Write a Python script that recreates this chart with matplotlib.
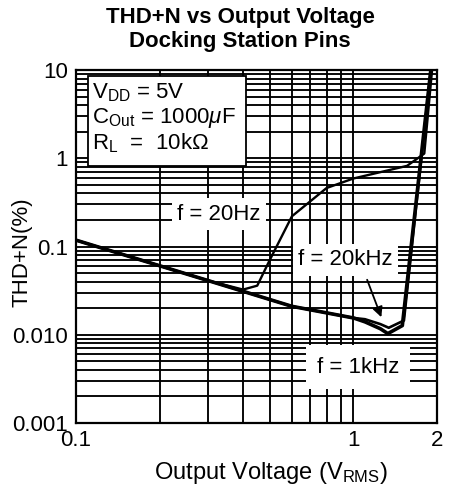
import matplotlib.pyplot as plt
from matplotlib.patches import Rectangle
from matplotlib.ticker import FixedLocator, FixedFormatter, LogLocator, NullFormatter

plt.rcParams['font.family'] = ['Liberation Sans', 'DejaVu Sans']
plt.rcParams['mathtext.fontset'] = 'custom'
plt.rcParams['mathtext.rm'] = 'Liberation Sans'
plt.rcParams['mathtext.it'] = 'Liberation Sans:italic'

# valeurs
v_1k = [0.1, 0.3, 0.6, 1.0, 1.1, 1.25, 1.33, 1.5, 1.9]
thd_1k = [0.118, 0.041, 0.021, 0.0155, 0.0140, 0.0117, 0.0103, 0.0127, 10]

v_20k = [0.1, 0.3, 0.6, 1.0, 1.1, 1.25, 1.34, 1.52, 1.9]
thd_20k = [0.118, 0.041, 0.021, 0.0155, 0.0150, 0.0132, 0.0120, 0.0145, 10]

v_20 = [0.1, 0.3, 0.4, 0.45, 0.5, 0.6, 0.8, 1.0, 1.56, 1.8, 1.92]
thd_20 = [0.118, 0.041, 0.0325, 0.036, 0.071, 0.22, 0.46, 0.59, 0.82, 1.13, 10]

x_ticks = [0.1, 1, 2]
x_labels = ["0.1", "1", "2"]
y_ticks = [0.001, 0.01, 0.1, 1, 10]
y_labels = ["0.001", "0.010", "0.1", "1", "10"]

fig = plt.figure(figsize=(4.55, 4.9), dpi=100)
ax = fig.add_axes([76 / 455, 1 - 423 / 490, 361 / 455, 353 / 490])

ax.set_xscale("log")
ax.set_yscale("log")
ax.set_xlim(0.1, 2)
ax.set_ylim(0.001, 10)

# grille
ax.xaxis.set_major_locator(FixedLocator(x_ticks))
ax.xaxis.set_major_formatter(FixedFormatter(x_labels))
ax.xaxis.set_minor_locator(LogLocator(base=10, subs=range(2, 10)))
ax.xaxis.set_minor_formatter(NullFormatter())
ax.yaxis.set_major_locator(FixedLocator(y_ticks))
ax.yaxis.set_major_formatter(FixedFormatter(y_labels))
ax.yaxis.set_minor_locator(LogLocator(base=10, subs=range(2, 10)))
ax.yaxis.set_minor_formatter(NullFormatter())
ax.grid(True, which="both", color="black", linewidth=1.35)
ax.tick_params(which="both", length=0, labelsize=16)
ax.tick_params(axis="x", pad=5)
ax.tick_params(axis="y", pad=6)
for s in ax.spines.values():
    s.set_linewidth(1.6)

ax.plot(v_20, thd_20, color="black", linewidth=1.7, zorder=3)
ax.plot(v_20k, thd_20k, color="black", linewidth=1.9, zorder=3)
ax.plot(v_1k, thd_1k, color="black", linewidth=2.6, zorder=3)

# cadre des conditions
ax.add_patch(Rectangle((0.033, 0.728), 0.438, 0.255, transform=ax.transAxes,
                       facecolor="white", edgecolor="black", linewidth=1.3, zorder=4))
ax.text(0.044, 0.935, r"V$_{\rm DD}$ = 5V", transform=ax.transAxes, fontsize=16,
        va="center", zorder=5)
ax.text(0.044, 0.864, r"C$_{\rm Out}$ = 1000$\mu$F", transform=ax.transAxes, fontsize=16,
        va="center", zorder=5)
ax.text(0.044, 0.793, r"R$_{\rm L}$  =  10k$\Omega$", transform=ax.transAxes, fontsize=16,
        va="center", zorder=5)

box = dict(facecolor="white", edgecolor="none", pad=4)
ax.text(0.328, 0.231, "f = 20Hz", fontsize=16, ha="center", va="center", bbox=box, zorder=4)
ax.text(0.935, 0.071, "f = 20kHz", fontsize=16, ha="center", va="center", bbox=box, zorder=4)
ax.text(1.04, 0.0043, "f = 1kHz", fontsize=16, ha="center", va="center",
        bbox=dict(facecolor="white", edgecolor="none", pad=8), zorder=4)

ax.annotate("", xy=(1.26, 0.0158), xytext=(1.12, 0.042),
            arrowprops=dict(arrowstyle="-|>", color="black", linewidth=1.3,
                            mutation_scale=15, shrinkA=0, shrinkB=0), zorder=5)

fig.text(240 / 455, 1 - 18 / 490, "THD+N vs Output Voltage", fontsize=16,
         fontweight="bold", ha="center", va="center")
fig.text(240 / 455, 1 - 42 / 490, "Docking Station Pins", fontsize=16,
         fontweight="bold", ha="center", va="center")
fig.text(22 / 455, 1 - 252 / 490, "THD+N(%)", fontsize=16, rotation=90,
         ha="center", va="center")
fig.text(271 / 455, 1 - 473 / 490, r"Output Voltage (V$_{\rm RMS}$)", fontsize=17,
         ha="center", va="center")

fig.savefig("out.png", dpi=100)
